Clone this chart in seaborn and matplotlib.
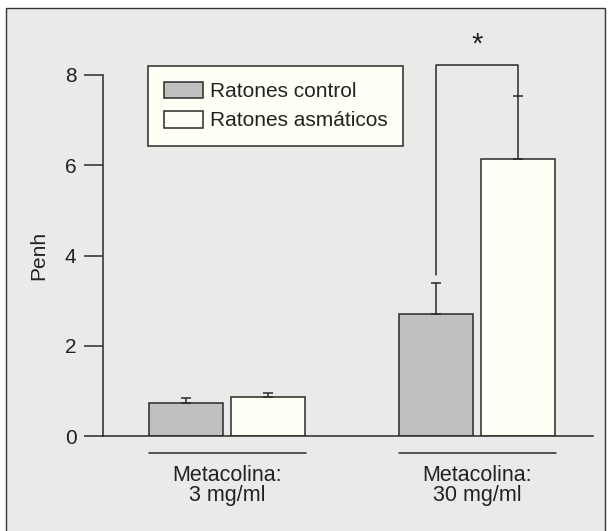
import matplotlib
matplotlib.use("Agg")
import matplotlib.pyplot as plt
import seaborn as sns
import pandas as pd
from matplotlib.patches import Rectangle

# data
groups = ["Metacolina:\n3 mg/ml", "Metacolina:\n30 mg/ml"]
series = ["Ratones control", "Ratones asmáticos"]
control_vals = [0.74, 2.70]
asthma_vals = [0.87, 6.14]
control_err = [0.10, 0.68]
asthma_err = [0.08, 1.40]
yticks = [0, 2, 4, 6, 8]

df = pd.DataFrame({
    "grupo": groups * 2,
    "serie": [series[0]] * 2 + [series[1]] * 2,
    "Penh": control_vals + asthma_vals,
})

sns.set_style("ticks")
plt.rcParams["font.family"] = ["Liberation Sans", "DejaVu Sans"]
ink = "#222222"
bg = "#EBEAE8"

fig = plt.figure(figsize=(6.10, 5.31), dpi=100)
fig.patch.set_facecolor("white")
# grey panel with a thin frame
fig.patches.append(Rectangle((6 / 610, -0.01), 599 / 610, 1 - 8 / 531 + 0.01,
                             transform=fig.transFigure, facecolor=bg,
                             edgecolor="#333333", linewidth=1.0, zorder=-10))

ax = fig.add_axes([103 / 610, 1 - 436 / 531, 490 / 610, 361 / 531])
ax.set_facecolor("none")

sns.barplot(data=df, x="grupo", y="Penh", hue="serie", hue_order=series,
            palette=["#C0C0C0", "#FFFFF5"], errorbar=None, width=0.66, gap=0.1,
            edgecolor="#2a2a2a", linewidth=1.1, saturation=1, ax=ax)

# upper error bars only
centers = []
for cont, err in zip(ax.containers, [control_err, asthma_err]):
    xs = [p.get_x() + p.get_width() / 2 for p in cont]
    hs = [p.get_height() for p in cont]
    centers.append(xs)
    ax.errorbar(xs, hs, yerr=[[0] * len(err), err], fmt="none",
                ecolor="#2a2a2a", elinewidth=1.1, capsize=3.6, capthick=1.1,
                zorder=1)

ax.set_xlim(-0.496, 1.464)
ax.set_ylim(0, 8)
ax.set_yticks(yticks)
ax.set_xlabel("")
ax.set_ylabel("Penh", fontsize=15, color=ink)
ax.yaxis.set_label_coords(-0.112, 0.5)
sns.despine(ax=ax)
ax.spines["left"].set_bounds(0, 8)
for s in ["left", "bottom"]:
    ax.spines[s].set_color("#2a2a2a")
    ax.spines[s].set_linewidth(1.1)
ax.tick_params(axis="y", length=14, width=1.1, color="#2a2a2a",
               labelsize=15, labelcolor=ink, pad=5)
ax.tick_params(axis="x", length=0, labelsize=15.5, labelcolor=ink, pad=21)
for lab in ax.get_xticklabels():
    lab.set_linespacing(0.95)

# lines under the groups
for i in range(len(groups)):
    ax.plot([i - 0.314, i + 0.314], [-0.37, -0.37], color="#2a2a2a",
            lw=1.1, clip_on=False)

# significance bracket
x_left = centers[0][1]
x_right = centers[1][1]
top = 8.23
ax.plot([x_left, x_left, x_right, x_right],
        [3.56, top, top, asthma_vals[1] + asthma_err[1]],
        color="#2a2a2a", lw=1.1, clip_on=False)
ax.text((x_left + x_right) / 2, 8.68, "*", ha="center", va="center",
        fontsize=21, color=ink, clip_on=False)

handles, labels = ax.get_legend_handles_labels()
leg = ax.legend(handles, labels, loc="upper left",
                bbox_to_anchor=(0.092, 1.025), fontsize=15,
                frameon=True, fancybox=False, facecolor="#FFFFF5",
                edgecolor="#2a2a2a", framealpha=1, handlelength=1.87,
                handleheight=0.87, handletextpad=0.35, labelspacing=0.45,
                borderpad=0.75, borderaxespad=0)
leg.get_frame().set_linewidth(1.1)
for t in leg.get_texts():
    t.set_color(ink)

fig.savefig("out.png", dpi=100)
